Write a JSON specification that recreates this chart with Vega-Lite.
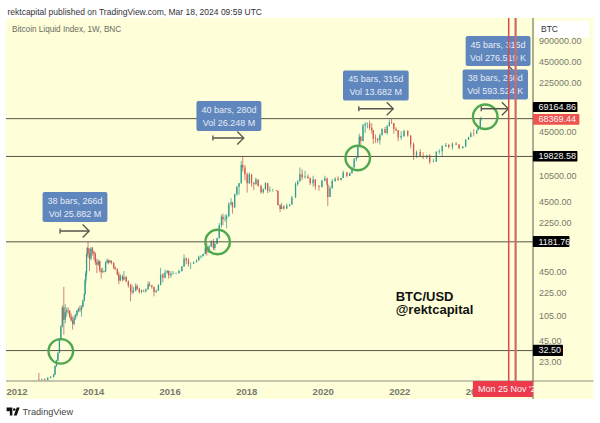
{
"$schema":"https://vega.github.io/schema/vega-lite/v6.json",
"width":527,"height":363,
"padding":{"left":6,"top":18,"right":67,"bottom":42},
"autosize":{"type":"none"},
"background":"#feffd8",
"view":{"stroke":null},
"config":{"font":"Liberation Sans","text":{"font":"Liberation Sans"}},
"datasets":{
"white":[
{"d":"2000-01-01","d2":"2040-01-01","p":1923000,"p2":100000000},
{"d":"2000-01-01","d2":"2040-01-01","p":6.56,"p2":0.001},
{"d":"2000-01-01","d2":"2011-10-11","p":0.001,"p2":100000000},
{"d":"2027-02-17","d2":"2040-01-01","p":0.001,"p2":100000000}
],
"candles":[
{"d":"2012-08-20","o":12.5,"h":15.5,"l":12,"c":12.4},
{"d":"2012-09-17","o":12.4,"h":12.9,"l":12,"c":12.6},
{"d":"2012-10-15","o":12.6,"h":13,"l":12,"c":12.3},
{"d":"2012-11-12","o":12.3,"h":13.5,"l":12.1,"c":13.2},
{"d":"2012-12-10","o":13.2,"h":14,"l":13,"c":13.6},
{"d":"2013-01-07","o":13.6,"h":15,"l":13.4,"c":14.8},
{"d":"2013-01-21","o":14.8,"h":20,"l":14.5,"c":19.5},
{"d":"2013-02-04","o":19.5,"h":24,"l":19,"c":23.5},
{"d":"2013-02-18","o":23.5,"h":31,"l":23,"c":30},
{"d":"2013-03-04","o":30,"h":47,"l":30,"c":46},
{"d":"2013-03-18","o":46,"h":75,"l":45,"c":72},
{"d":"2013-04-01","o":72,"h":145,"l":70,"c":135},
{"d":"2013-04-15","o":135,"h":266,"l":55,"c":90},
{"d":"2013-04-29","o":90,"h":150,"l":80,"c":115},
{"d":"2013-05-13","o":115,"h":135,"l":100,"c":122},
{"d":"2013-05-27","o":122,"h":135,"l":110,"c":120},
{"d":"2013-06-10","o":120,"h":125,"l":95,"c":100},
{"d":"2013-06-24","o":100,"h":110,"l":85,"c":88},
{"d":"2013-07-08","o":88,"h":100,"l":65,"c":78},
{"d":"2013-07-22","o":78,"h":105,"l":75,"c":95},
{"d":"2013-08-05","o":95,"h":110,"l":90,"c":105},
{"d":"2013-08-19","o":105,"h":125,"l":100,"c":122},
{"d":"2013-09-02","o":122,"h":135,"l":115,"c":130},
{"d":"2013-09-16","o":130,"h":145,"l":115,"c":125},
{"d":"2013-10-01","o":125,"h":145,"l":100,"c":138},
{"d":"2013-10-14","o":138,"h":175,"l":135,"c":170},
{"d":"2013-10-28","o":170,"h":215,"l":165,"c":210},
{"d":"2013-11-04","o":210,"h":350,"l":205,"c":330},
{"d":"2013-11-11","o":330,"h":450,"l":300,"c":420},
{"d":"2013-11-18","o":420,"h":800,"l":380,"c":780},
{"d":"2013-11-25","o":780,"h":1000,"l":750,"c":960},
{"d":"2013-12-02","o":960,"h":1181,"l":700,"c":800},
{"d":"2013-12-16","o":800,"h":950,"l":450,"c":680},
{"d":"2013-12-30","o":680,"h":1000,"l":640,"c":950},
{"d":"2014-01-13","o":950,"h":1000,"l":750,"c":850},
{"d":"2014-01-27","o":850,"h":880,"l":650,"c":800},
{"d":"2014-02-10","o":800,"h":830,"l":550,"c":600},
{"d":"2014-02-24","o":600,"h":680,"l":420,"c":560},
{"d":"2014-03-10","o":560,"h":660,"l":530,"c":620},
{"d":"2014-03-24","o":620,"h":640,"l":430,"c":470},
{"d":"2014-04-07","o":470,"h":500,"l":350,"c":440},
{"d":"2014-04-21","o":440,"h":500,"l":420,"c":450},
{"d":"2014-05-05","o":450,"h":455,"l":430,"c":445},
{"d":"2014-05-19","o":445,"h":620,"l":440,"c":590},
{"d":"2014-06-02","o":590,"h":680,"l":580,"c":640},
{"d":"2014-06-16","o":640,"h":660,"l":560,"c":600},
{"d":"2014-06-30","o":600,"h":650,"l":590,"c":630},
{"d":"2014-07-14","o":630,"h":640,"l":560,"c":590},
{"d":"2014-08-04","o":590,"h":600,"l":480,"c":500},
{"d":"2014-08-18","o":500,"h":530,"l":460,"c":480},
{"d":"2014-09-08","o":480,"h":490,"l":390,"c":400},
{"d":"2014-09-22","o":400,"h":440,"l":290,"c":330},
{"d":"2014-10-06","o":330,"h":410,"l":320,"c":380},
{"d":"2014-10-27","o":380,"h":400,"l":320,"c":340},
{"d":"2014-11-10","o":340,"h":450,"l":330,"c":370},
{"d":"2014-12-01","o":370,"h":385,"l":310,"c":320},
{"d":"2014-12-22","o":320,"h":330,"l":260,"c":280},
{"d":"2015-01-12","o":280,"h":295,"l":165,"c":230},
{"d":"2015-01-26","o":230,"h":290,"l":210,"c":225},
{"d":"2015-02-09","o":225,"h":265,"l":215,"c":235},
{"d":"2015-03-02","o":235,"h":300,"l":230,"c":275},
{"d":"2015-03-16","o":275,"h":290,"l":240,"c":250},
{"d":"2015-04-06","o":250,"h":260,"l":215,"c":225},
{"d":"2015-04-27","o":225,"h":245,"l":215,"c":235},
{"d":"2015-05-18","o":235,"h":245,"l":225,"c":230},
{"d":"2015-06-08","o":230,"h":255,"l":220,"c":245},
{"d":"2015-06-29","o":245,"h":320,"l":245,"c":290},
{"d":"2015-07-13","o":290,"h":315,"l":270,"c":280},
{"d":"2015-08-03","o":280,"h":285,"l":250,"c":265},
{"d":"2015-08-24","o":265,"h":270,"l":195,"c":225},
{"d":"2015-09-14","o":225,"h":245,"l":220,"c":235},
{"d":"2015-10-05","o":235,"h":290,"l":235,"c":285},
{"d":"2015-10-26","o":285,"h":500,"l":280,"c":400},
{"d":"2015-11-16","o":400,"h":420,"l":310,"c":360},
{"d":"2015-12-07","o":360,"h":470,"l":355,"c":430},
{"d":"2015-12-28","o":430,"h":465,"l":410,"c":450},
{"d":"2016-01-11","o":450,"h":460,"l":350,"c":390},
{"d":"2016-02-01","o":390,"h":450,"l":360,"c":410},
{"d":"2016-02-22","o":410,"h":450,"l":400,"c":420},
{"d":"2016-03-21","o":420,"h":430,"l":405,"c":420},
{"d":"2016-04-18","o":420,"h":470,"l":415,"c":450},
{"d":"2016-05-16","o":450,"h":530,"l":440,"c":525},
{"d":"2016-06-06","o":525,"h":780,"l":520,"c":680},
{"d":"2016-06-27","o":680,"h":700,"l":560,"c":640},
{"d":"2016-07-18","o":640,"h":690,"l":520,"c":570},
{"d":"2016-08-08","o":570,"h":600,"l":480,"c":570},
{"d":"2016-09-05","o":570,"h":620,"l":565,"c":600},
{"d":"2016-10-03","o":600,"h":660,"l":600,"c":640},
{"d":"2016-10-24","o":640,"h":750,"l":640,"c":720},
{"d":"2016-11-14","o":720,"h":760,"l":680,"c":735},
{"d":"2016-12-05","o":735,"h":800,"l":730,"c":790},
{"d":"2016-12-26","o":790,"h":1000,"l":780,"c":990},
{"d":"2017-01-09","o":990,"h":1150,"l":750,"c":830},
{"d":"2017-01-30","o":830,"h":1060,"l":820,"c":1010},
{"d":"2017-02-20","o":1010,"h":1250,"l":1000,"c":1180},
{"d":"2017-03-13","o":1180,"h":1300,"l":900,"c":960},
{"d":"2017-03-27","o":960,"h":1210,"l":890,"c":1100},
{"d":"2017-04-17","o":1100,"h":1350,"l":1090,"c":1330},
{"d":"2017-05-08","o":1330,"h":2200,"l":1320,"c":2050},
{"d":"2017-05-29","o":2050,"h":2900,"l":1900,"c":2700},
{"d":"2017-06-12","o":2700,"h":3000,"l":2050,"c":2500},
{"d":"2017-07-03","o":2500,"h":2900,"l":2300,"c":2550},
{"d":"2017-07-17","o":2550,"h":2950,"l":1850,"c":2750},
{"d":"2017-08-07","o":2750,"h":4400,"l":2700,"c":4100},
{"d":"2017-08-28","o":4100,"h":5000,"l":3900,"c":4350},
{"d":"2017-09-11","o":4350,"h":4400,"l":3000,"c":3700},
{"d":"2017-10-02","o":3700,"h":5800,"l":3600,"c":5700},
{"d":"2017-10-23","o":5700,"h":7500,"l":5400,"c":7300},
{"d":"2017-11-13","o":7300,"h":8300,"l":5600,"c":8200},
{"d":"2017-12-04","o":8200,"h":17000,"l":8100,"c":15000},
{"d":"2017-12-18","o":15000,"h":19800,"l":12000,"c":13800},
{"d":"2018-01-08","o":13800,"h":15000,"l":9000,"c":11000},
{"d":"2018-01-29","o":11000,"h":11700,"l":6000,"c":8200},
{"d":"2018-02-19","o":8200,"h":11700,"l":8000,"c":11000},
{"d":"2018-03-12","o":11000,"h":11000,"l":7300,"c":8300},
{"d":"2018-04-02","o":8300,"h":8500,"l":6500,"c":7900},
{"d":"2018-04-23","o":7900,"h":9900,"l":7800,"c":9300},
{"d":"2018-05-14","o":9300,"h":9300,"l":7300,"c":7500},
{"d":"2018-06-11","o":7500,"h":7800,"l":5800,"c":6100},
{"d":"2018-07-02","o":6100,"h":6900,"l":5800,"c":6700},
{"d":"2018-07-23","o":6700,"h":8500,"l":6600,"c":8200},
{"d":"2018-08-13","o":8200,"h":8300,"l":5900,"c":6400},
{"d":"2018-09-03","o":6400,"h":7400,"l":6100,"c":6500},
{"d":"2018-10-01","o":6500,"h":6800,"l":6200,"c":6500},
{"d":"2018-11-05","o":6500,"h":6550,"l":6300,"c":6400},
{"d":"2018-11-19","o":6400,"h":6400,"l":3900,"c":4000},
{"d":"2018-12-10","o":4000,"h":4100,"l":3150,"c":3500},
{"d":"2018-12-24","o":3500,"h":4300,"l":3500,"c":3800},
{"d":"2019-01-14","o":3800,"h":4000,"l":3400,"c":3550},
{"d":"2019-02-11","o":3550,"h":4200,"l":3500,"c":3900},
{"d":"2019-03-11","o":3900,"h":4100,"l":3800,"c":4050},
{"d":"2019-04-01","o":4050,"h":5400,"l":4050,"c":5100},
{"d":"2019-05-06","o":5100,"h":8500,"l":5100,"c":8000},
{"d":"2019-05-27","o":8000,"h":9100,"l":7500,"c":8700},
{"d":"2019-06-17","o":8700,"h":13800,"l":8700,"c":11000},
{"d":"2019-07-08","o":11000,"h":13000,"l":9100,"c":10000},
{"d":"2019-08-05","o":10000,"h":12300,"l":9500,"c":10200},
{"d":"2019-09-02","o":10200,"h":10900,"l":9500,"c":9700},
{"d":"2019-09-23","o":9700,"h":9900,"l":7700,"c":8200},
{"d":"2019-10-21","o":8200,"h":10500,"l":7300,"c":9300},
{"d":"2019-11-11","o":9300,"h":9400,"l":6600,"c":7400},
{"d":"2019-12-16","o":7400,"h":7700,"l":6400,"c":7200},
{"d":"2020-01-13","o":7200,"h":9200,"l":7100,"c":8900},
{"d":"2020-02-10","o":8900,"h":10500,"l":8700,"c":9600},
{"d":"2020-03-02","o":9600,"h":9900,"l":7600,"c":7800},
{"d":"2020-03-09","o":7800,"h":8000,"l":3850,"c":5200},
{"d":"2020-03-30","o":5200,"h":7500,"l":5200,"c":7000},
{"d":"2020-04-20","o":7000,"h":9400,"l":6800,"c":8800},
{"d":"2020-05-18","o":8800,"h":10000,"l":8600,"c":9500},
{"d":"2020-06-15","o":9500,"h":10300,"l":8900,"c":9100},
{"d":"2020-07-13","o":9100,"h":9800,"l":9000,"c":9700},
{"d":"2020-08-03","o":9700,"h":12400,"l":9700,"c":11700},
{"d":"2020-09-07","o":11700,"h":12000,"l":9900,"c":10400},
{"d":"2020-10-05","o":10400,"h":11700,"l":10400,"c":11500},
{"d":"2020-10-26","o":11500,"h":14000,"l":11200,"c":13800},
{"d":"2020-11-16","o":13800,"h":18900,"l":13700,"c":18200},
{"d":"2020-12-07","o":18200,"h":19900,"l":16900,"c":19200},
{"d":"2020-12-21","o":19200,"h":29000,"l":18900,"c":28000},
{"d":"2021-01-04","o":28000,"h":42000,"l":27700,"c":38000},
{"d":"2021-01-18","o":38000,"h":38800,"l":28800,"c":33000},
{"d":"2021-02-08","o":33000,"h":58000,"l":32500,"c":55000},
{"d":"2021-03-01","o":55000,"h":61800,"l":43000,"c":58000},
{"d":"2021-03-22","o":58000,"h":61000,"l":50400,"c":58800},
{"d":"2021-04-12","o":58800,"h":64900,"l":47000,"c":51000},
{"d":"2021-05-03","o":51000,"h":59500,"l":42000,"c":47000},
{"d":"2021-05-17","o":47000,"h":47500,"l":30000,"c":36000},
{"d":"2021-06-07","o":36000,"h":41000,"l":31000,"c":35500},
{"d":"2021-06-28","o":35500,"h":36500,"l":31000,"c":34000},
{"d":"2021-07-19","o":34000,"h":42500,"l":29300,"c":40000},
{"d":"2021-08-09","o":40000,"h":50500,"l":40000,"c":48800},
{"d":"2021-09-06","o":48800,"h":52900,"l":42800,"c":43000},
{"d":"2021-09-27","o":43000,"h":56000,"l":40700,"c":54000},
{"d":"2021-10-18","o":54000,"h":67000,"l":53500,"c":61000},
{"d":"2021-11-08","o":61000,"h":69000,"l":58000,"c":60000},
{"d":"2021-11-29","o":60000,"h":60000,"l":42000,"c":49000},
{"d":"2021-12-20","o":49000,"h":52000,"l":45500,"c":47000},
{"d":"2022-01-10","o":47000,"h":47500,"l":33000,"c":37000},
{"d":"2022-02-07","o":37000,"h":45800,"l":34300,"c":39000},
{"d":"2022-03-07","o":39000,"h":48200,"l":37500,"c":46000},
{"d":"2022-04-11","o":46000,"h":47500,"l":38000,"c":39500},
{"d":"2022-05-09","o":39500,"h":40000,"l":26000,"c":29500},
{"d":"2022-06-06","o":29500,"h":31500,"l":17600,"c":20500},
{"d":"2022-07-04","o":20500,"h":24200,"l":18900,"c":23000},
{"d":"2022-08-08","o":23000,"h":25200,"l":19600,"c":20000},
{"d":"2022-09-05","o":20000,"h":22700,"l":18100,"c":19300},
{"d":"2022-10-10","o":19300,"h":21000,"l":18200,"c":20500},
{"d":"2022-11-07","o":20500,"h":21500,"l":15500,"c":16500},
{"d":"2022-12-12","o":16500,"h":18300,"l":16300,"c":16700},
{"d":"2023-01-09","o":16700,"h":23800,"l":16700,"c":23000},
{"d":"2023-02-06","o":23000,"h":25200,"l":21400,"c":23500},
{"d":"2023-03-06","o":23500,"h":28800,"l":19600,"c":27800},
{"d":"2023-04-10","o":27800,"h":31000,"l":27000,"c":29000},
{"d":"2023-05-08","o":29000,"h":30000,"l":25800,"c":27000},
{"d":"2023-06-12","o":27000,"h":31400,"l":24800,"c":30500},
{"d":"2023-07-17","o":30500,"h":31800,"l":29000,"c":29300},
{"d":"2023-08-14","o":29300,"h":30000,"l":25300,"c":26000},
{"d":"2023-09-18","o":26000,"h":28000,"l":25800,"c":27500},
{"d":"2023-10-16","o":27500,"h":35000,"l":26700,"c":34500},
{"d":"2023-11-13","o":34500,"h":38000,"l":34000,"c":37700},
{"d":"2023-12-04","o":37700,"h":44700,"l":37600,"c":42500},
{"d":"2024-01-01","o":42500,"h":48900,"l":38500,"c":42000},
{"d":"2024-01-29","o":42000,"h":48000,"l":41800,"c":47000},
{"d":"2024-02-12","o":47000,"h":53000,"l":47000,"c":52000},
{"d":"2024-03-04","o":52000,"h":69000,"l":51000,"c":68000},
{"d":"2024-03-11","o":68000,"h":73800,"l":64500,"c":68369.44}
],
"levels":[
{"d":"2011-10-11","d2":"2025-07-20","p":69164.86},
{"d":"2011-10-11","d2":"2025-07-20","p":19828.58},
{"d":"2011-10-11","d2":"2025-07-20","p":1181.76},
{"d":"2011-10-11","d2":"2025-07-20","p":32.5}
],
"circles":[
{"d":"2013-03-17","p":31.7},
{"d":"2017-04-22","p":1174},
{"d":"2020-12-20","p":18850},
{"d":"2024-04-20","p":73750}
],
"arrows":[
{"d":"2013-03-10","d2":"2013-12-13","p":1689},
{"d":"2017-03-08","d2":"2017-12-28","p":36490},
{"d":"2020-12-30","d2":"2021-11-24","p":96050},
{"d":"2024-03-13","d2":"2025-02-01","p":315600},
{"d":"2024-03-13","d2":"2024-11-27","p":96050}
],
"boxes":[
{"d":"2012-09-24","d2":"2014-06-05","p":6124,"p2":2275},
{"d":"2016-10-02","d2":"2018-06-14","p":123900,"p2":45970},
{"d":"2020-08-01","d2":"2022-04-20","p":339400,"p2":126000},
{"d":"2023-10-16","d2":"2025-06-26","p":1061000,"p2":393800},
{"d":"2023-09-17","d2":"2025-06-02","p":350800,"p2":130200}
],
"boxText":[
{"d":"2013-07-31","p":4550,"t":"38 bars, 266d"},
{"d":"2013-07-31","p":2961,"t":"Vol 25.882 M"},
{"d":"2017-08-08","p":93540,"t":"40 bars, 280d"},
{"d":"2017-08-08","p":59870,"t":"Vol 26.248 M"},
{"d":"2021-06-09","p":256300,"t":"45 bars, 315d"},
{"d":"2021-06-09","p":164100,"t":"Vol 13.682 M"},
{"d":"2024-08-20","p":801000,"t":"45 bars, 315d"},
{"d":"2024-08-20","p":512900,"t":"Vol 276.519 K"},
{"d":"2024-07-24","p":264900,"t":"38 bars, 266d"},
{"d":"2024-07-24","p":169600,"t":"Vol 593.524 K"}
],
"redLine1":[{"d":"2024-11-30","p":1923000,"p2":11.9}],
"redLine2":[{"d":"2025-02-04","p":1923000,"p2":11.9}],
"tags":[
{"d":"2025-07-19","d2":"2026-09-17","p":119900,"p2":86140,"k":"black"},
{"d":"2025-07-19","d2":"2026-10-06","p":80640,"p2":56620,"k":"red"},
{"d":"2025-07-19","d2":"2026-09-17","p":23740,"p2":16790,"k":"black"},
{"d":"2025-07-19","d2":"2026-07-03","p":1432,"p2":995,"k":"black"},
{"d":"2025-07-19","d2":"2026-05-02","p":39.4,"p2":27.2,"k":"black"},
{"d":"2023-12-24","d2":"2025-07-19","p":11.9,"p2":7,"k":"date"}
],
"tagText":[
{"d":"2025-09-10","p":101600,"t":"69164.86"},
{"d":"2025-09-10","p":67690,"t":"68369.44"},
{"d":"2025-09-10","p":20130,"t":"19828.58"},
{"d":"2025-09-10","p":1194,"t":"1181.76"},
{"d":"2025-09-10","p":32.8,"t":"32.50"},
{"d":"2024-02-10","p":9.13,"t":"Mon 25 Nov '2"}
],
"btcBox":[{"d":"2025-08-10","d2":"2027-01-10","p":1759000,"p2":1003000}],
"btcText":[{"d":"2025-10-04","p":1337000,"t":"BTC"}],
"header":[{"d":"2011-10-25","p":2345000,"t":"rektcapital published on TradingView.com, Mar 18, 2024 09:59 UTC"}],
"legendText":[{"d":"2011-12-07","p":1294000,"t":"Bitcoin Liquid Index, 1W, BNC"}],
"brand":[{"d":"2012-03-17","p":4.34,"t":"TradingView"}],
"logo":[{"d":"2011-12-18","p":4.34}],
"signature":[
{"d":"2021-12-17","p":190.8,"t":"BTC/USD"},
{"d":"2021-12-17","p":122.9,"t":"@rektcapital"}
],
"bottomLine":[{"d":"2011-10-11","d2":"2027-02-17","p":11.9}],
"axisLine":[{"d":"2025-07-20","p":1923000,"p2":6.56}]
},
"encoding":{
"x":{"field":"d","type":"temporal","title":null,
"scale":{"domain":["2011-10-11","2025-07-20"],"nice":false,"padding":0},
"axis":{"values":["2012-01-20","2014-01-20","2016-01-20","2018-01-20","2020-01-20","2022-01-20","2024-01-20"],"format":"%Y","grid":false,"domain":false,"ticks":false,"labelPadding":5,"labelFont":"Liberation Sans","labelFontSize":9.5,"labelFontWeight":"bold","labelColor":"#77786e","labelOverlap":false,"labelFlush":false}},
"y":{"field":"p","type":"quantitative","title":null,
"scale":{"type":"log","domain":[11.9,1923000],"nice":false},
"axis":{"orient":"right","values":[900000,450000,225000,45000,10500,4500,2250,450,225,105,45,23],"format":".2f","grid":false,"domain":false,"ticks":false,"labelPadding":5.5,"labelFont":"Liberation Sans","labelFontSize":9,"labelColor":"#77786e","labelOverlap":false,"labelFlush":false}}
},
"layer":[
{"data":{"name":"white"},"mark":{"type":"rect","color":"white"},
"encoding":{"x2":{"field":"d2"},"y2":{"field":"p2"}}},
{"data":{"name":"candles"},"mark":{"type":"rule","strokeWidth":0.8},
"encoding":{
"y":{"field":"l","type":"quantitative","title":null,"scale":{"type":"log","domain":[11.9,1923000],"nice":false},"axis":{"orient":"right"}},
"y2":{"field":"h"},
"color":{"condition":{"test":"datum.c >= datum.o","value":"#3f9f92"},"value":"#c8625c"}}},
{"data":{"name":"candles"},"mark":{"type":"rule","strokeWidth":1.3},
"encoding":{
"y":{"field":"o","type":"quantitative","title":null,"scale":{"type":"log","domain":[11.9,1923000],"nice":false},"axis":{"orient":"right"}},
"y2":{"field":"c"},
"color":{"condition":{"test":"datum.c >= datum.o","value":"#2f9e8f"},"value":"#d2564f"}}},
{"data":{"name":"levels"},"mark":{"type":"rule","color":"#55554a","strokeWidth":1},
"encoding":{"x2":{"field":"d2"}}},
{"data":{"name":"bottomLine"},"mark":{"type":"rule","color":"#8c8c84","strokeWidth":1},
"encoding":{"x2":{"field":"d2"}}},
{"data":{"name":"circles"},"mark":{"type":"point","shape":"circle","size":600,"stroke":"#4fa84f","strokeWidth":2.4,"filled":false,"opacity":1}},
{"data":{"name":"arrows"},"mark":{"type":"rule","color":"#55554f","strokeWidth":1.5},
"encoding":{"x2":{"field":"d2"}}},
{"data":{"name":"arrows"},"mark":{"type":"point","shape":"M-1,-1L0,0L-1,1","size":170,"stroke":"#55554f","strokeWidth":1.3,"filled":false,"opacity":1},
"encoding":{"x":{"field":"d2","type":"temporal","title":null,"scale":{"domain":["2011-10-11","2025-07-20"],"nice":false,"padding":0}}}},
{"data":{"name":"arrows"},"mark":{"type":"point","shape":"M0,-1L0,1","size":25,"stroke":"#55554f","strokeWidth":1.3,"filled":false,"opacity":1}},
{"data":{"name":"boxes"},"mark":{"type":"rect","color":"#5f86bd","cornerRadius":2},
"encoding":{"x2":{"field":"d2"},"y2":{"field":"p2"}}},
{"data":{"name":"boxText"},"mark":{"type":"text","color":"#e6ecf5","fontSize":9,"align":"center","baseline":"middle"},
"encoding":{"text":{"field":"t"}}},
{"data":{"name":"redLine1"},"mark":{"type":"rule","color":"#d9474f","strokeWidth":1.5},
"encoding":{"y2":{"field":"p2"}}},
{"data":{"name":"redLine2"},"mark":{"type":"rule","color":"#cf6a68","strokeWidth":2.2},
"encoding":{"y2":{"field":"p2"}}},
{"data":{"name":"axisLine"},"mark":{"type":"rule","color":"#5c5c55","strokeWidth":1},
"encoding":{"y2":{"field":"p2"}}},
{"data":{"name":"tags"},"mark":{"type":"rect","cornerRadius":1},
"encoding":{"x2":{"field":"d2"},"y2":{"field":"p2"},
"color":{"field":"k","type":"nominal","legend":null,"scale":{"domain":["black","red","date"],"range":["#000000","#ef5350","#ee3b4c"]}}}},
{"data":{"name":"tagText"},"mark":{"type":"text","color":"#f4f4f4","fontSize":9,"align":"left","baseline":"middle"},
"encoding":{"text":{"field":"t"}}},
{"data":{"name":"btcBox"},"mark":{"type":"rect","color":"white","cornerRadius":1},
"encoding":{"x2":{"field":"d2"},"y2":{"field":"p2"}}},
{"data":{"name":"btcText"},"mark":{"type":"text","color":"#333333","fontSize":8.5,"align":"left","baseline":"middle"},
"encoding":{"text":{"field":"t"}}},
{"data":{"name":"header"},"mark":{"type":"text","color":"#333333","fontSize":8.5,"align":"left","baseline":"middle"},
"encoding":{"text":{"field":"t"}}},
{"data":{"name":"legendText"},"mark":{"type":"text","color":"#6a6a62","fontSize":8.2,"align":"left","baseline":"middle"},
"encoding":{"text":{"field":"t"}}},
{"data":{"name":"brand"},"mark":{"type":"text","color":"#444444","fontSize":9.2,"align":"left","baseline":"middle"},
"encoding":{"text":{"field":"t"}}},
{"data":{"name":"logo"},"mark":{"type":"point","shape":"M-1,-0.6H-0.12V0.6H-0.5V-0.05H-1ZM0.55,-0.6H1L0.55,0.6H0.1ZM-0.02,-0.32A0.2,0.2 0 1,1 0.38,-0.32A0.2,0.2 0 1,1 -0.02,-0.32Z","size":170,"filled":true,"fill":"#111111","opacity":1,"stroke":null}},
{"data":{"name":"signature"},"mark":{"type":"text","color":"#111111","fontSize":13,"fontWeight":"bold","align":"left","baseline":"middle"},
"encoding":{"text":{"field":"t"}}}
]
}
